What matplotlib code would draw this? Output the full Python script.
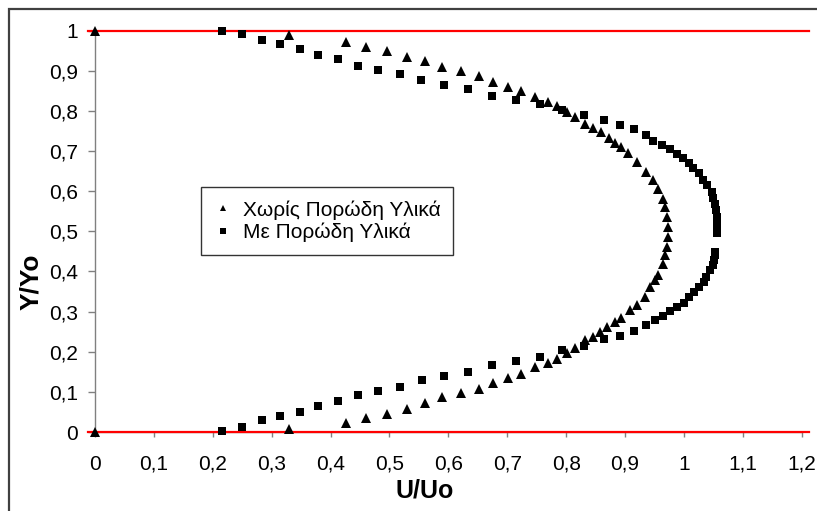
import matplotlib
matplotlib.use("Agg")
import matplotlib.pyplot as plt
from matplotlib.patches import Rectangle

plt.rcParams['font.family'] = ['Liberation Sans', 'DejaVu Sans']

# Velocity profile without porous material (triangles)
u_plain = [0.0, 0.329, 0.427, 0.461, 0.495, 0.529, 0.560, 0.590, 0.621, 0.652,
           0.676, 0.702, 0.724, 0.747, 0.770, 0.784, 0.801, 0.815, 0.832, 0.846,
           0.859, 0.872, 0.883, 0.894, 0.905, 0.920, 0.935, 0.948, 0.956, 0.965,
           0.968, 0.971, 0.973, 0.973, 0.971, 0.968, 0.965, 0.956, 0.951, 0.942,
           0.934, 0.921, 0.908, 0.894, 0.883, 0.870, 0.857, 0.846, 0.832, 0.815,
           0.801, 0.785, 0.769, 0.747, 0.724, 0.702, 0.676, 0.652, 0.621, 0.590,
           0.560, 0.529, 0.495, 0.461, 0.427, 0.329, 0.0]
y_plain = [1.000, 0.988, 0.971, 0.958, 0.949, 0.934, 0.923, 0.909, 0.898, 0.886,
           0.871, 0.859, 0.849, 0.834, 0.822, 0.811, 0.797, 0.784, 0.766, 0.758,
           0.747, 0.733, 0.720, 0.710, 0.695, 0.672, 0.648, 0.627, 0.606, 0.581,
           0.560, 0.536, 0.511, 0.486, 0.461, 0.440, 0.418, 0.391, 0.378, 0.361,
           0.337, 0.316, 0.303, 0.283, 0.274, 0.262, 0.250, 0.236, 0.229, 0.208,
           0.197, 0.182, 0.171, 0.161, 0.144, 0.134, 0.123, 0.108, 0.096, 0.086,
           0.071, 0.058, 0.045, 0.034, 0.023, 0.007, 0.000]

# Velocity profile with porous material (squares)
u_porous = [0.215, 0.250, 0.283, 0.314, 0.348, 0.379, 0.413, 0.447, 0.480, 0.518,
            0.553, 0.593, 0.633, 0.674, 0.715, 0.755, 0.793, 0.830, 0.864, 0.891,
            0.916, 0.936, 0.947, 0.963, 0.976, 0.988, 0.998, 1.008, 1.015, 1.025,
            1.032, 1.039, 1.048, 1.049, 1.053, 1.054, 1.056, 1.056, 1.056, 1.056,
            1.053, 1.053, 1.051, 1.049, 1.044, 1.038, 1.034, 1.026, 1.017, 1.008,
            1.000, 0.989, 0.977, 0.964, 0.951, 0.935, 0.916, 0.891, 0.864, 0.830,
            0.793, 0.755, 0.715, 0.674, 0.633, 0.593, 0.555, 0.518, 0.480, 0.447,
            0.413, 0.379, 0.348, 0.314, 0.283, 0.250, 0.216]
y_porous = [1.000, 0.992, 0.977, 0.966, 0.954, 0.940, 0.929, 0.912, 0.902, 0.892,
            0.876, 0.865, 0.855, 0.838, 0.828, 0.818, 0.803, 0.790, 0.776, 0.764,
            0.754, 0.739, 0.726, 0.716, 0.704, 0.692, 0.682, 0.669, 0.657, 0.644,
            0.627, 0.614, 0.597, 0.582, 0.567, 0.552, 0.535, 0.522, 0.507, 0.495,
            0.448, 0.440, 0.428, 0.415, 0.403, 0.386, 0.374, 0.361, 0.349, 0.337,
            0.322, 0.312, 0.302, 0.289, 0.279, 0.267, 0.252, 0.240, 0.231, 0.214,
            0.204, 0.187, 0.177, 0.167, 0.150, 0.140, 0.129, 0.113, 0.103, 0.092,
            0.076, 0.065, 0.050, 0.040, 0.029, 0.013, 0.003]

# Channel walls
wall_levels = [0.0, 1.0]
wall_span = [-0.012, 1.212]

tick_vals = [0.0, 0.1, 0.2, 0.3, 0.4, 0.5, 0.6, 0.7, 0.8, 0.9, 1.0, 1.1, 1.2]
x_tick_labels = ["0", "0,1", "0,2", "0,3", "0,4", "0,5", "0,6", "0,7", "0,8",
                 "0,9", "1", "1,1", "1,2"]
y_tick_vals = [0.0, 0.1, 0.2, 0.3, 0.4, 0.5, 0.6, 0.7, 0.8, 0.9, 1.0]
y_tick_labels = ["0", "0,1", "0,2", "0,3", "0,4", "0,5", "0,6", "0,7", "0,8",
                 "0,9", "1"]

W, H = 817, 511
fig = plt.figure(figsize=(W / 100, H / 100), dpi=100)
fig.patch.set_facecolor("white")

# outer chart frame
fig.add_artist(Rectangle((8.5 / W, -0.05), 1.2, 1.05 - 9.5 / H,
                         transform=fig.transFigure, fill=False,
                         edgecolor="#404040", linewidth=1.6, clip_on=False))

ax = fig.add_axes([95 / W, 1 - 432 / H, (801.7 - 95) / W, (432 - 30.5) / H])
ax.set_xlim(0, 1.2)
ax.set_ylim(0, 1)

for lvl in wall_levels:
    ax.plot(wall_span, [lvl, lvl], color="#ff0000", linewidth=1.6,
            clip_on=False, zorder=2)

ax.plot(u_plain, y_plain, linestyle="none", marker="^", markersize=7,
        color="black", markeredgewidth=0, clip_on=False, zorder=3,
        label="Χωρίς Πορώδη Υλικά")
ax.plot(u_porous, y_porous, linestyle="none", marker="s", markersize=6,
        color="black", markeredgewidth=0, clip_on=False, zorder=3,
        label="Με Πορώδη Υλικά")

for side in ("top", "right"):
    ax.spines[side].set_visible(False)
for side in ("left", "bottom"):
    ax.spines[side].set_color("#808080")
    ax.spines[side].set_linewidth(1.0)
    ax.spines[side].set_zorder(1)

ax.set_xticks(tick_vals)
ax.set_xticklabels(x_tick_labels)
ax.set_yticks(y_tick_vals)
ax.set_yticklabels(y_tick_labels)
ax.tick_params(axis="both", direction="out", width=1.0,
               color="#808080", labelsize=15, labelcolor="black")
ax.tick_params(axis="x", length=3.8, pad=12.5)
ax.tick_params(axis="y", length=5, pad=7.5)

ax.set_xlabel("U/Uo", fontsize=18, fontweight="bold")
ax.set_ylabel("Y/Yo", fontsize=19, fontweight="bold")
ax.xaxis.set_label_coords((425 - 95) / (801.7 - 95), -(491 - 432) / (432 - 30.5))
ax.yaxis.set_label_coords(-(95 - 31) / (801.7 - 95), (432 - 282) / (432 - 30.5))
ax.xaxis.label.set_verticalalignment("center")
ax.yaxis.label.set_verticalalignment("center")

leg = ax.legend(loc="upper left", bbox_to_anchor=(200.5 / W, 1 - 187.5 / H),
                bbox_transform=fig.transFigure, frameon=True, fancybox=False,
                edgecolor="black", fontsize=15, markerscale=0.7,
                handlelength=1.0, handletextpad=0.45, borderpad=0.6,
                labelspacing=0.15, borderaxespad=0)
leg.get_frame().set_linewidth(1.0)

fig.savefig("out.png", dpi=100, facecolor="white")
